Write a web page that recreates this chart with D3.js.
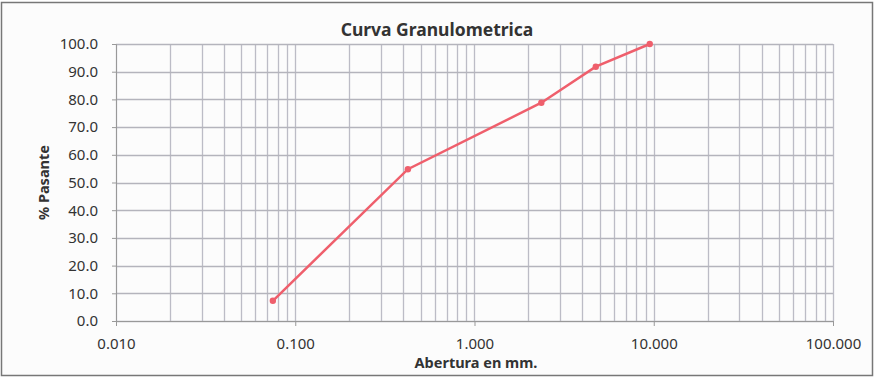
<!DOCTYPE html>
<html>
<head>
<meta charset="utf-8">
<script src="https://cdn.jsdelivr.net/npm/d3@7"></script>
<style>
  body { margin:0; background:#fff; }
  text { font-family: "Noto Sans", "Liberation Sans", sans-serif; fill:#333; }
</style>
</head>
<body>
<div id="canvas"></div>
<script>
// sieve openings (mm) and % passing
var aberturas = [0.075, 0.425, 2.36, 4.75, 9.5];
var pasante = [7.3, 54.8, 78.8, 91.8, 100.0];
var xTicks = [0.01, 0.1, 1, 10, 100];
var yTicks = [0, 10, 20, 30, 40, 50, 60, 70, 80, 90, 100];

var W = 874, H = 378;
var m = {t:44, r:41, b:57, l:116},
    w = W - m.l - m.r,
    h = H - m.t - m.b;

var svg = d3.select('#canvas').append('svg')
    .attr('width', W).attr('height', H);

svg.append('rect')
    .attr('x', 1.5).attr('y', 2.5).attr('width', W - 3).attr('height', H - 5)
    .attr('fill', '#fcfcfc').attr('stroke', '#777').attr('stroke-width', 1.5);

var plot = svg.append('g')
    .attr('transform', 'translate(' + m.l + ',' + m.t + ')');

var x = d3.scaleLog().domain([0.01, 100]).range([0, w]);
var y = d3.scaleLinear().domain([0, 100]).range([h, 0]);

// minor + major vertical grid
var vLines = [];
[0.01, 0.1, 1, 10].forEach(function(d){
    for (var k = 1; k <= 9; k++) vLines.push(d * k);
});
vLines.push(100);

plot.selectAll('.vgrid').data(vLines).enter()
    .append('line').attr('class', 'vgrid')
    .attr('x1', function(d){ return Math.round(x(d)) + 0.5; })
    .attr('x2', function(d){ return Math.round(x(d)) + 0.5; })
    .attr('y1', 0).attr('y2', h)
    .attr('stroke', '#bcbcc6').attr('stroke-width', 1.3);

plot.selectAll('.hgrid').data(yTicks).enter()
    .append('line').attr('class', 'hgrid')
    .attr('x1', 0).attr('x2', w)
    .attr('y1', function(d){ return Math.round(y(d)) + 0.5; })
    .attr('y2', function(d){ return Math.round(y(d)) + 0.5; })
    .attr('stroke', '#b4b4bc').attr('stroke-width', 1.3);

// axes
var xAxis = plot.append('g')
    .attr('transform', 'translate(0,' + h + ')')
    .call(d3.axisBottom(x).tickValues(xTicks).tickFormat(d3.format('.3f')).tickSize(5).tickPadding(12));
var yAxis = plot.append('g')
    .call(d3.axisLeft(y).tickValues(yTicks).tickFormat(d3.format('.1f')).tickSize(4).tickPadding(14));

[xAxis, yAxis].forEach(function(a){
    a.select('.domain').attr('stroke', '#999');
    a.selectAll('.tick line').attr('stroke', '#999');
    a.selectAll('.tick text').style('font-size', '15px').attr('fill', '#333');
});

// curve
var line = d3.line()
    .x(function(d, i){ return x(aberturas[i]); })
    .y(function(d){ return y(d); });

plot.append('path')
    .datum(pasante)
    .attr('d', line)
    .attr('fill', 'none')
    .attr('stroke', '#ef5f6c')
    .attr('stroke-width', 2.5);

plot.selectAll('.pt').data(pasante).enter()
    .append('circle').attr('class', 'pt')
    .attr('cx', function(d, i){ return x(aberturas[i]); })
    .attr('cy', function(d){ return y(d); })
    .attr('r', 3.2)
    .attr('fill', '#ef5f6c');

// labels
svg.append('text')
    .attr('x', 437).attr('y', 36)
    .attr('text-anchor', 'middle')
    .style('font-size', '17.5px').style('font-weight', 'bold')
    .text('Curva Granulometrica');

svg.append('text')
    .attr('x', 476).attr('y', 368)
    .attr('text-anchor', 'middle')
    .style('font-size', '14.5px').style('font-weight', 'bold')
    .text('Abertura en mm.');

svg.append('text')
    .attr('transform', 'translate(49,' + (m.t + h / 2) + ') rotate(-90)')
    .attr('text-anchor', 'middle')
    .style('font-size', '14.5px').style('font-weight', 'bold')
    .text('% Pasante');
</script>
</body>
</html>
